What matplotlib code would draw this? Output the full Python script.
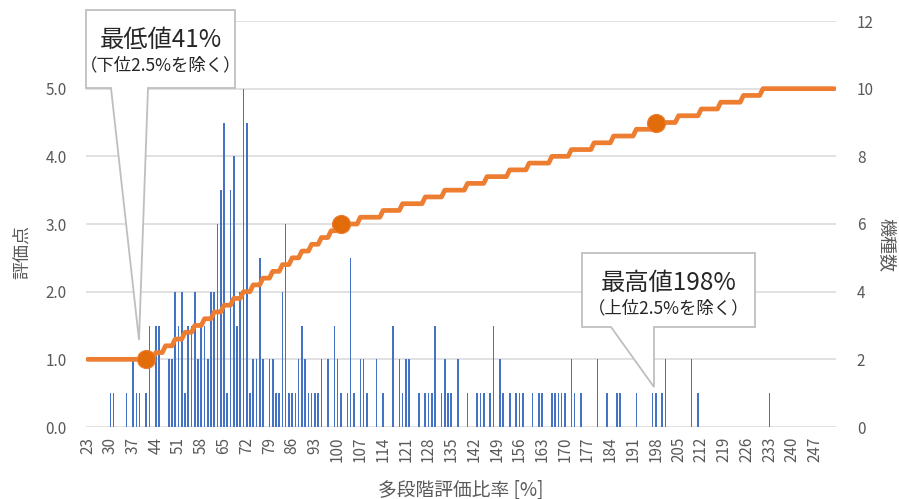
import matplotlib
matplotlib.use("Agg")
import matplotlib.pyplot as plt
import numpy as np
from matplotlib.axes import Axes
from matplotlib.patches import Polygon

plt.rcParams['font.family'] = ['Noto Sans CJK JP', 'DejaVu Sans']

FIG_W: int = 899
FIG_H: int = 499

TEXT_COLOR: str = "#595959"
GRID_COLOR: str = "#D9D9D9"
BAR_COLOR: str = "#4472C4"
LINE_COLOR: str = "#ED7D31"
MARKER_COLOR: str = "#E36C0A"

X_LABEL: str = "多段階評価比率 [%]"
LEFT_LABEL: str = "評価点"
RIGHT_LABEL: str = "機種数"

# categories on the x axis (ratio in %)
ratio_first: int = 23
ratio_last: int = 253
tick_labels: list[int] = [23, 30, 37, 44, 51, 58, 65, 72, 79, 86, 93, 100, 107, 114, 121, 128,
                          135, 142, 149, 156, 163, 170, 177, 184, 191, 198, 205, 212, 219, 226,
                          233, 240, 247]

# number of models at each ratio (right axis)
bar_ratio: list[int] = [30, 31, 35, 37, 38, 39, 41, 42, 44, 45, 48, 49, 50, 51, 52, 53, 54, 55,
                        56, 57, 58, 59, 60, 61, 62, 63, 64, 65, 66, 67, 68, 69, 70, 71, 72, 73,
                        74, 75, 76, 77, 79, 80, 81, 82, 83, 84, 85, 86, 87, 88, 89, 90, 91, 92,
                        93, 94, 95, 97, 99, 100, 101, 103, 104, 105, 107, 108, 109, 112, 114,
                        117, 119, 120, 121, 122, 125, 127, 128, 129, 130, 132, 133, 134, 135,
                        137, 140, 143, 144, 145, 147, 148, 150, 151, 153, 155, 156, 157, 160,
                        162, 163, 166, 167, 168, 169, 170, 172, 173, 175, 180, 183, 186, 187,
                        192, 197, 198, 200, 201, 209, 211, 233]
bar_count: list[int] = [1, 1, 1, 2, 1, 1, 1, 3, 3, 3, 2, 2, 4, 3, 4, 1, 3, 3,
                        4, 2, 3, 3, 2, 4, 4, 6, 7, 9, 1, 7, 8, 3, 4, 10, 9, 1,
                        2, 2, 5, 2, 2, 2, 1, 1, 4, 6, 1, 1, 1, 2, 3, 2, 1, 1,
                        1, 1, 2, 2, 3, 2, 1, 1, 5, 1, 2, 2, 1, 2, 1,
                        3, 2, 1, 2, 2, 1, 1, 1, 1, 3, 1, 2, 1, 1,
                        2, 1, 1, 1, 1, 1, 3, 2, 1, 1, 1, 1, 1, 1,
                        1, 1, 1, 1, 1, 1, 1, 2, 1, 1, 2, 1, 1, 1,
                        1, 1, 1, 1, 2, 2, 1, 1]

# rating steps (left axis): ratio where each level starts
step_ratio: list[int] = [23, 44, 47, 50, 53, 56, 59, 62, 65, 68, 71, 74, 77, 80, 83, 86, 89, 92,
                         95, 98, 101, 107, 114, 120, 127, 133, 140, 146, 153, 159, 166, 172,
                         179, 185, 192, 198, 205, 212, 218, 225, 231]
step_level: list[float] = [1.0, 1.1, 1.2, 1.3, 1.4, 1.5, 1.6, 1.7, 1.8, 1.9, 2.0, 2.1, 2.2, 2.3,
                           2.4, 2.5, 2.6, 2.7, 2.8, 2.9, 3.0, 3.1, 3.2, 3.3, 3.4, 3.5, 3.6, 3.7,
                           3.8, 3.9, 4.0, 4.1, 4.2, 4.3, 4.4, 4.5, 4.6, 4.7, 4.8, 4.9, 5.0]

# highlighted points
marker_ratio: list[int] = [41, 101, 198]
marker_level: list[float] = [1.0, 3.0, 4.5]

categories = np.arange(ratio_first, ratio_last + 1)
rating = np.array(step_level)[np.searchsorted(step_ratio, categories, side="right") - 1]


def px(x: float, y: float) -> tuple[float, float]:
    return x / FIG_W, 1 - y / FIG_H


fig = plt.figure(figsize=(FIG_W / 100, FIG_H / 100), dpi=100)
left, bottom = px(86, 427)
right, top = px(836, 21)
ax2: Axes = fig.add_axes((left, bottom, right - left, top - bottom))
ax: Axes = ax2.twinx()
ax.set_zorder(ax2.get_zorder() + 1)
ax.patch.set_visible(False)

# bars: models per ratio
ax2.bar(bar_ratio, bar_count, width=0.5, color=BAR_COLOR, linewidth=0)
ax2.set_ylim(0, 12)
ax2.set_yticks(range(0, 13, 2))
ax2.grid(axis="y", color=GRID_COLOR, linewidth=1.1)
ax2.set_axisbelow(True)
ax2.yaxis.tick_right()

# rating line
ax.plot(categories, rating, color=LINE_COLOR, linewidth=3.4, solid_capstyle="round",
        solid_joinstyle="round")
ax.plot(marker_ratio, marker_level, linestyle="none", marker="o", markersize=13,
        color=MARKER_COLOR, markeredgecolor=LINE_COLOR, markeredgewidth=0.8)
ax.set_ylim(0, 6)
ax.set_yticks([0, 1, 2, 3, 4, 5])
ax.set_yticklabels([f"{v:.1f}" for v in [0, 1, 2, 3, 4, 5]])
ax.yaxis.tick_left()

ax2.set_xlim(ratio_first - 0.5, ratio_last + 0.5)
ax2.set_xticks(tick_labels)
ax2.set_xticklabels([str(t) for t in tick_labels], rotation=90)

for a in (ax, ax2):
    for spine in a.spines.values():
        spine.set_visible(False)
    a.tick_params(length=0, labelsize=11, labelcolor=TEXT_COLOR)
ax.tick_params(axis="y", pad=14)
ax2.tick_params(axis="y", pad=15)
ax2.tick_params(axis="x", pad=7)

fig.text(*px(461, 490), X_LABEL, ha="center", va="center", fontsize=13.5, color=TEXT_COLOR)
fig.text(*px(22, 252), LEFT_LABEL, ha="center", va="center", rotation=90, fontsize=13,
         color=TEXT_COLOR)
fig.text(*px(886, 245), RIGHT_LABEL, ha="center", va="center", rotation=270, fontsize=13,
         color=TEXT_COLOR)


def callout(box: tuple[float, float, float, float], base: tuple[float, float],
            tip: tuple[float, float], title: str, note: str) -> None:
    x0, y0, x1, y1 = box
    pts = [(x0, y0), (x1, y0), (x1, y1), (base[1], y1), tip, (base[0], y1), (x0, y1)]
    fig.add_artist(Polygon([px(*p) for p in pts], closed=True, transform=fig.transFigure,
                           facecolor="white", edgecolor="#BFBFBF", linewidth=1.3, zorder=5))
    cx = (x0 + x1) / 2
    fig.text(*px(cx, y0 + 30), title, ha="center", va="center", fontsize=17.5,
             color="#262626", zorder=6)
    fig.text(*px(cx, y0 + 55), note, ha="center", va="center", fontsize=12.5,
             color="#262626", zorder=6)


callout((86, 10, 235, 88), (111, 148), (139, 340), "最低値41%", "（下位2.5%を除く）")
callout((582, 253, 755, 327), (611, 654), (654, 387), "最高値198%", "（上位2.5%を除く）")

fig.savefig("out.png", dpi=100)
